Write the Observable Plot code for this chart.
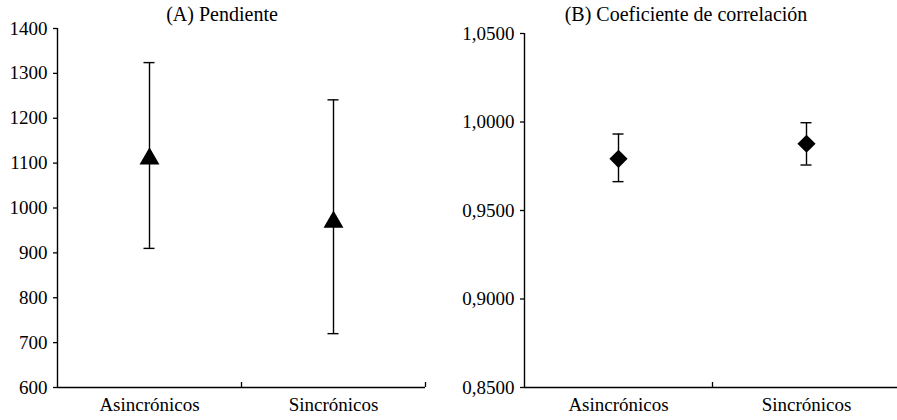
<!DOCTYPE html>
<html><head><meta charset="utf-8">
<script src="https://cdn.jsdelivr.net/npm/d3@7"></script>
<script src="https://cdn.jsdelivr.net/npm/@observablehq/plot@0.6"></script>
<style>
body{margin:0;background:#fff;}
</style></head><body>
<div id="wrap" style="position:relative;width:897px;height:420px;overflow:hidden;font-family:'Liberation Serif';color:#000;"></div>
<script>
const categories = ["Asincrónicos", "Sincrónicos"];
const titles = ["(A) Pendiente", "(B) Coeficiente de correlación"];
const slopeMean = [1110, 969];
const slopeLow = [910, 720];
const slopeHigh = [1324, 1241];
const corrMean = [0.9792, 0.9877];
const corrLow = [0.9663, 0.9757];
const corrHigh = [0.9932, 0.9996];
const slopeTicks = [600, 700, 800, 900, 1000, 1100, 1200, 1300, 1400];
const corrTicks = [0.85, 0.90, 0.95, 1.00, 1.05];

const wrap = document.getElementById("wrap");
const FAMILY = "Liberation Serif";

function panel({left, width, marginLeft, marginRight, marginTop, ticks, fmt, mean, low, high, symbol, r, title, titleX}) {
  const data = categories.map((c, i) => ({cat: c, pos: i + 0.5, mean: mean[i], lo: low[i], hi: high[i]}));
  const y0 = ticks[0], y1 = ticks[ticks.length - 1];
  const svg = Plot.plot({
    width, height: 400, marginLeft, marginRight, marginTop, marginBottom: 33,
    x: {type: "linear", domain: [0, categories.length], label: null},
    y: {domain: [y0, y1], label: null},
    marks: [
      Plot.ruleX([0], {stroke: "black", strokeWidth: 1.4}),
      Plot.ruleY([y0], {stroke: "black", strokeWidth: 1.4}),
      Plot.ruleX(d3.range(1, categories.length + 1), {y1: y0, y2: y0, insetBottom: 5, stroke: "black", strokeWidth: 1.3}),
      Plot.axisY(ticks, {tickSize: 4, tickPadding: 6, tickFormat: fmt, strokeWidth: 1.3, fontFamily: FAMILY, fontSize: 19}),
      Plot.axisX(data.map(d => d.pos), {tickSize: 0, tickPadding: 10, tickFormat: d => categories[Math.floor(d)], fontFamily: FAMILY, fontSize: 19}),
      Plot.ruleX(data, {x: "pos", y1: "lo", y2: "hi", stroke: "black", strokeWidth: 1.4}),
      Plot.ruleY(data, {y: "hi", x1: "pos", x2: "pos", insetLeft: -5.5, insetRight: -5.5, stroke: "black", strokeWidth: 1.4}),
      Plot.ruleY(data, {y: "lo", x1: "pos", x2: "pos", insetLeft: -5.5, insetRight: -5.5, stroke: "black", strokeWidth: 1.4}),
      Plot.dot(data, {x: "pos", y: "mean", symbol, r, fill: "black", stroke: "none"})
    ]
  });
  svg.style.position = "absolute";
  svg.style.left = left + "px";
  svg.style.top = "20px";
  svg.style.fontFamily = FAMILY;
  svg.style.overflow = "visible";
  svg.style.color = "#000";
  wrap.appendChild(svg);
  const t = document.createElement("div");
  t.textContent = title;
  Object.assign(t.style, {position: "absolute", top: "4px", left: titleX + "px", transform: "translateX(-50%)",
    fontFamily: FAMILY, fontSize: "20px", lineHeight: "20px", whiteSpace: "nowrap"});
  wrap.appendChild(t);
}

panel({left: 0, width: 440, marginLeft: 57, marginRight: 15, marginTop: 8,
  ticks: slopeTicks, fmt: d => String(d), mean: slopeMean, low: slopeLow, high: slopeHigh,
  symbol: "triangle", r: 7.4, title: titles[0], titleX: 222});

panel({left: 440, width: 460, marginLeft: 84, marginRight: 0, marginTop: 13,
  ticks: corrTicks, fmt: d => d3.format(".4f")(d).replace(".", ","), mean: corrMean, low: corrLow, high: corrHigh,
  symbol: "diamond2", r: 8.2, title: titles[1], titleX: 686});
</script>
</body></html>
